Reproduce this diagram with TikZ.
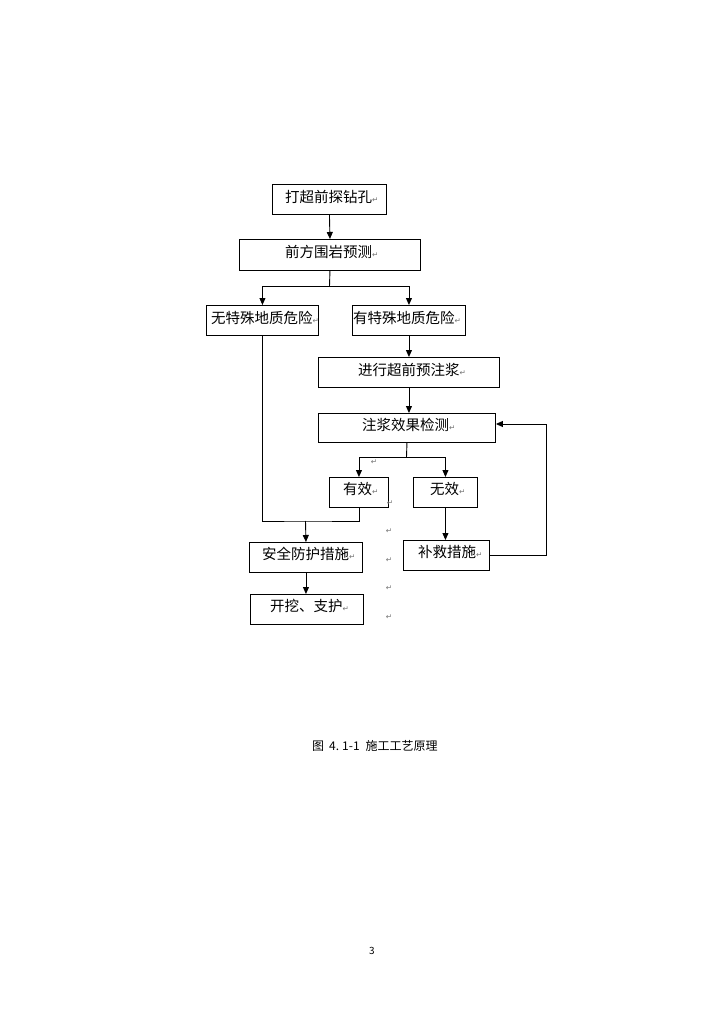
\documentclass[tikz,border=0pt]{standalone}
\usepackage{fontspec}
\setmainfont{Noto Sans CJK SC}
\newfontfamily\symfont{DejaVu Sans}
\usetikzlibrary{arrows.meta}
\newcommand\retmark{{\symfont\fontsize{7.5}{7.5}\selectfont\color{black!55}↵}}
\begin{document}
\begin{tikzpicture}[x=1pt,y=-1pt,
  box/.style={draw,line width=0.9pt,inner sep=0pt,anchor=north west},
  lbl/.style={anchor=west,inner sep=0pt,font=\fontsize{14.5}{14.5}\selectfont},
  conn/.style={line width=0.9pt},
  arr/.style={line width=0.9pt,-{Triangle[length=7pt,width=6pt]}},
  rm/.style={inner sep=0pt,font=\symfont\fontsize{7.5}{7.5}\selectfont,text=black!55}]
\fill[white] (0,0) rectangle (724,1024);
\useasboundingbox (0,0) rectangle (724,1024);
% boxes
\node[box,minimum width=114pt,minimum height=30pt] (b1) at (272,184) {};
\node[box,minimum width=181pt,minimum height=31pt] (b2) at (239,239) {};
\node[box,minimum width=112pt,minimum height=30pt] (b3) at (206,305) {};
\node[box,minimum width=113pt,minimum height=30pt] (b4) at (352,305) {};
\node[box,minimum width=181pt,minimum height=30pt] (b5) at (318,357) {};
\node[box,minimum width=177pt,minimum height=29pt] (b6) at (318,413) {};
\node[box,minimum width=59pt,minimum height=30pt] (b7) at (329,477) {};
\node[box,minimum width=64pt,minimum height=30pt] (b8) at (413,477) {};
\node[box,minimum width=113pt,minimum height=30pt] (b9) at (249,542) {};
\node[box,minimum width=113pt,minimum height=30pt] (b10) at (250,594) {};
\node[box,minimum width=86pt,minimum height=30pt] (b11) at (403,540) {};
% labels
\node[lbl] (t1) at (285,197) {打超前探钻孔\retmark};
\node[lbl] (t2) at (285,252) {前方围岩预测\retmark};
\node[lbl] (t3) at (211,318) {无特殊地质危险\retmark};
\node[lbl] (t4) at (353,318) {有特殊地质危险\retmark};
\node[lbl] (t5) at (358,370) {进行超前预注浆\retmark};
\node[lbl] (t6) at (362,425) {注浆效果检测\retmark};
\node[lbl] (t7) at (343,489) {有效\retmark};
\node[lbl] (t8) at (430,489) {无效\retmark};
\node[lbl] (t9) at (262,554) {安全防护措施\retmark};
\node[lbl] (t10) at (270,606) {开挖、支护\retmark};
\node[lbl] (t11) at (418,552) {补救措施\retmark};
% connector points
\coordinate (j1) at (329.5,286);
\coordinate (j2) at (406.5,457);
\coordinate (j4) at (305.5,521);
\coordinate (fb) at (546,424);
% connectors
\draw[arr] (b1.south) -- (b2.north);
\draw[conn] (b2.south) -- (j1);
\draw[arr] (j1) -| (b3.north);
\draw[arr] (j1) -| (b4.north);
\draw[arr] (b4.south) -- (b5.north);
\draw[arr] (b5.south) -- (b5.south |- b6.north);
\draw[conn] (b6.south) -- (j2);
\draw[arr] (j2) -| (b7.north);
\draw[arr] (j2) -| (b8.north);
\draw[conn] (b3.south) |- (j4) -| (b7.south);
\draw[arr] (j4) -- (b9.north);
\draw[arr] (b9.south) -- (b9.south |- b10.north);
\draw[arr] (b8.south) -- (b8.south |- b11.north);
\draw[conn] (b11.east) -| (fb);
\draw[arr] (fb) -- (fb -| b6.east);
% stray paragraph marks
\node[rm] (r1) at (374,462) {↵};
\node[rm] (r2) at (390,503) {↵};
\node[rm] (r3) at (389,531) {↵};
\node[rm] (r4) at (389,560) {↵};
\node[rm] (r5) at (389,588) {↵};
\node[rm] (r6) at (389,617) {↵};
% caption and page number
\node[anchor=west,inner sep=0pt,font=\fontsize{12}{12}\selectfont] (cap) at (312,746) {图\hspace{5pt}4.\hspace{3pt}1-1\hspace{6pt}施工工艺原理};
\node[inner sep=0pt,font=\fontsize{10}{10}\selectfont] (pg) at (372,951) {3};
\end{tikzpicture}
\end{document}
